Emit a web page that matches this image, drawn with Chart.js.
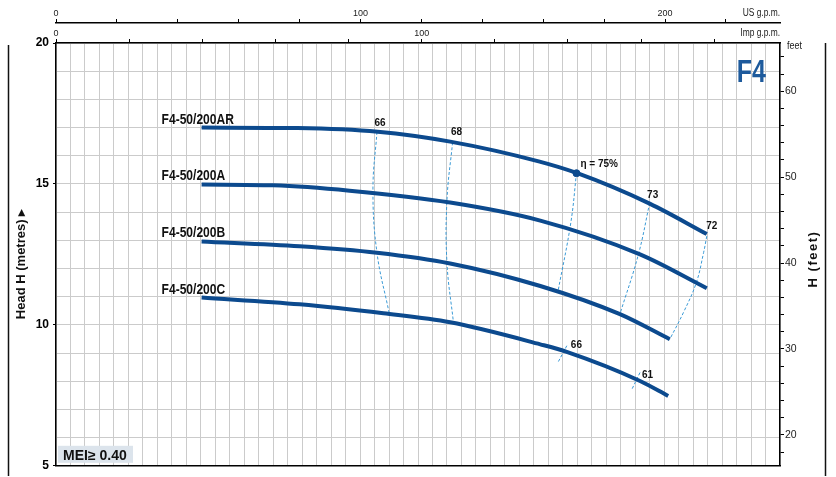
<!DOCTYPE html>
<html><head><meta charset="utf-8">
<script src="https://cdn.jsdelivr.net/npm/chart.js@4.4.1/dist/chart.umd.min.js"></script>
<style>html,body{margin:0;padding:0;background:#fff;}canvas{display:block;}</style>
</head><body>
<canvas id="c" width="836" height="477"></canvas>
<script>
// ---- data (flow in l/min, head in metres) ----
const curveNames = ['F4-50/200AR', 'F4-50/200A', 'F4-50/200B', 'F4-50/200C'];
const qAR = [181, 300, 400, 490, 600, 648, 738, 809];
const hAR = [17.0, 16.98, 16.85, 16.5, 15.8, 15.38, 14.3, 13.22];
const qA  = [181, 270, 365, 490, 602, 726, 809];
const hA  = [14.98, 14.95, 14.76, 14.34, 13.7, 12.5, 11.3];
const qB  = [181, 303, 399, 490, 602, 701, 763];
const hB  = [12.96, 12.79, 12.56, 12.18, 11.38, 10.38, 9.49];
const qC  = [181, 303, 407, 490, 602, 634, 726, 761];
const hC  = [10.97, 10.73, 10.41, 10.09, 9.31, 9.05, 8.01, 7.48];

const effLabels = ['66', '68', 'η = 75%', '73', '72', '66', '61'];
const effQ = [[399, 394, 399, 414], [493, 486, 486, 494], [647, 640, 624], [738, 724, 701], [809, 805, 796, 780, 763], [635, 624], [726, 716]];
const effH = [[16.85, 14.8, 12.56, 10.44], [16.48, 14.42, 12.2, 10.1], [15.38, 13.63, 11.18], [14.33, 12.5, 10.38], [13.15, 12.56, 11.5, 10.44, 9.49], [9.26, 8.67], [8.31, 7.72]];
const bestPointQ = [647];
const bestPointH = [15.38];

const headTicks = [5, 6, 7, 8, 9, 10, 11, 12, 13, 14, 15, 16, 17, 18, 19, 20];
const headTickLabels = [5, 10, 15, 20];
const flowGridStep = 18;
const feetTicks = [18, 20, 22, 24, 26, 28, 30, 32, 34, 36, 38, 40, 42, 44, 46, 48, 50, 52, 54, 56, 58, 60, 62, 64];
const feetTickLabels = [20, 30, 40, 50, 60];
const usTicks = [0, 20, 40, 60, 80, 100, 120, 140, 160, 180, 200, 220];
const usTickLabels = [0, 100, 200];
const impTicks = [0, 20, 40, 60, 80, 100, 120, 140, 160, 180];
const impTickLabels = [0, 100];

// ---- styles ----
const SANS = '"Liberation Sans", Arial, sans-serif';
const CURVE = '#0c4a8e';
const DASH = '#3a9ad6';
const GRID = '#cbcbcb';
const effOffsets = [[3, -9, 'center'], [4, -10, 'center'], [4, -9, 'left'], [3, -8, 'center'], [5, -10, 'center'], [4, 0, 'left'], [2, 3, 'left']];

const pts = (q, h) => q.map((v, i) => ({x: v, y: h[i]}));
const curveQ = [qAR, qA, qB, qC];
const curveH = [hAR, hA, hB, hC];

const datasets = [];
curveQ.forEach((q, i) => datasets.push({
  data: pts(q, curveH[i]), borderColor: CURVE, borderWidth: 4, pointRadius: 0,
  cubicInterpolationMode: 'monotone', borderCapStyle: 'butt', order: 0
}));
datasets.push({data: pts(bestPointQ, bestPointH), showLine: false, pointRadius: 3.5,
  pointBackgroundColor: CURVE, pointBorderColor: CURVE, order: -1});
effQ.forEach((q, i) => datasets.push({
  data: pts(q, effH[i]), borderColor: DASH, borderWidth: 1, borderDash: [3, 2],
  pointRadius: 0, tension: 0.4, order: 1
}));

const setTicks = arr => s => { s.ticks = arr.map(v => ({value: v})); };

function narrow(ctx, text, x, y, align, sx) {
  ctx.save();
  ctx.translate(x, y);
  ctx.scale(sx, 1);
  ctx.textAlign = align;
  ctx.fillText(text, 0, 0);
  ctx.restore();
}

const deco = {
  id: 'deco',
  afterDraw(chart) {
    const {ctx, chartArea: a, scales} = chart;
    const x = scales.x, y = scales.y;
    ctx.save();
    // curve names
    ctx.fillStyle = '#111';
    ctx.font = 'bold 14.5px ' + SANS;
    ctx.textBaseline = 'middle';
    curveQ.forEach((q, i) => {
      narrow(ctx, curveNames[i], x.getPixelForValue(q[0]) - 40, y.getPixelForValue(curveH[i][0]) - 8, 'left', 0.83);
    });
    // efficiency labels
    ctx.font = 'bold 10px ' + SANS;
    effLabels.forEach((t, i) => {
      const o = effOffsets[i];
      ctx.textAlign = o[2];
      ctx.fillText(t, x.getPixelForValue(effQ[i][0]) + o[0], y.getPixelForValue(effH[i][0]) + o[1]);
    });
    // unit labels on the top axes
    ctx.font = '10px ' + SANS;
    ctx.fillStyle = '#222';
    narrow(ctx, 'US g.p.m.', a.right, 13, 'right', 0.84);
    narrow(ctx, 'Imp g.p.m.', a.right, 33, 'right', 0.84);
    narrow(ctx, 'feet', a.right + 7, 46, 'left', 0.9);
    // F4
    ctx.fillStyle = '#1d5a9c';
    ctx.font = 'bold 32px ' + SANS;
    ctx.textBaseline = 'alphabetic';
    narrow(ctx, 'F4', a.right - 14, 82, 'right', 0.78);
    // MEI box
    ctx.fillStyle = '#dce4ec';
    ctx.fillRect(a.left + 2, a.bottom - 20, 75, 17);
    ctx.fillStyle = '#111';
    ctx.font = 'bold 14px ' + SANS;
    ctx.textAlign = 'left';
    ctx.fillText('MEI\u2265 0.40', a.left + 7, a.bottom - 6);
    // side rules
    ctx.strokeStyle = '#111';
    ctx.lineWidth = 1.5;
    ctx.beginPath();
    ctx.moveTo(8.5, 45); ctx.lineTo(8.5, 476);
    ctx.moveTo(825.5, 43); ctx.lineTo(825.5, 476);
    ctx.stroke();
    // axis titles
    ctx.font = 'bold 13px ' + SANS;
    ctx.textAlign = 'center';
    ctx.textBaseline = 'middle';
    ctx.save();
    ctx.translate(21, 264); ctx.rotate(-Math.PI / 2);
    ctx.fillText('Head H (metres) \u25B8', 0, 0);
    ctx.restore();
    ctx.save();
    ctx.translate(813, 259); ctx.rotate(-Math.PI / 2);
    ctx.letterSpacing = '1.5px';
    ctx.fillText('H (feet)', 0, 0);
    ctx.restore();
    ctx.restore();
  }
};

new Chart(document.getElementById('c'), {
  type: 'line',
  data: {datasets},
  plugins: [deco],
  options: {
    responsive: false, animation: false, devicePixelRatio: 1,
    layout: {padding: {top: 3, left: 6, right: 10, bottom: 10}},
    plugins: {legend: {display: false}, tooltip: {enabled: false}},
    scales: {
      x: {
        type: 'linear', position: 'bottom', min: 0, max: 900,
        afterBuildTicks: s => { const t = []; for (let v = 0; v <= 900; v += flowGridStep) t.push({value: v}); s.ticks = t; },
        ticks: {display: false},
        grid: {color: GRID, lineWidth: 1, drawTicks: false},
        border: {display: true, color: '#000', width: 1.5},
        afterFit: s => { s.height = 0; }
      },
      y: {
        type: 'linear', position: 'left', min: 5, max: 20,
        afterBuildTicks: setTicks(headTicks),
        ticks: {color: '#000', padding: 4, autoSkip: false, font: {family: SANS, size: 12, weight: 'bold'},
          callback: v => headTickLabels.includes(v) ? String(v) : ''},
        grid: {color: GRID, lineWidth: 1, tickLength: 3,
          tickColor: c => (c.tick && headTickLabels.includes(c.tick.value)) ? '#000' : 'rgba(0,0,0,0)'},
        border: {display: true, color: '#000', width: 1.5},
        afterFit: s => { s.width = 50; }
      },
      ft: {
        type: 'linear', position: 'right', min: 5 * 3.28084, max: 20 * 3.28084,
        afterBuildTicks: setTicks(feetTicks),
        ticks: {color: '#222', padding: 1, autoSkip: false, font: {family: SANS, size: 10.5},
          callback: v => feetTickLabels.includes(v) ? String(v) : ''},
        grid: {drawOnChartArea: false, tickLength: 4, tickColor: '#000'},
        border: {display: true, color: '#000', width: 1.5},
        afterFit: s => { s.width = 46; }
      },
      imp: {
        type: 'linear', position: 'top', min: 0, max: 900 / 4.54609, weight: 1,
        afterBuildTicks: setTicks(impTicks),
        ticks: {color: '#222', padding: 0, autoSkip: false, maxRotation: 0, font: {family: SANS, size: 9},
          callback: v => impTickLabels.includes(v) ? String(v) : ''},
        grid: {drawOnChartArea: false, tickLength: 4, tickColor: '#000'},
        border: {display: true, color: '#000', width: 1.5},
        afterFit: s => { s.height = 20; }
      },
      us: {
        type: 'linear', position: 'top', min: 0, max: 900 / 3.78541, weight: 2,
        afterBuildTicks: setTicks(usTicks),
        ticks: {color: '#222', padding: 0, autoSkip: false, maxRotation: 0, font: {family: SANS, size: 9},
          callback: v => usTickLabels.includes(v) ? String(v) : ''},
        grid: {drawOnChartArea: false, tickLength: 4, tickColor: '#000'},
        border: {display: true, color: '#000', width: 1.5},
        afterFit: s => { s.height = 20; }
      }
    }
  }
});
</script>
</body></html>
